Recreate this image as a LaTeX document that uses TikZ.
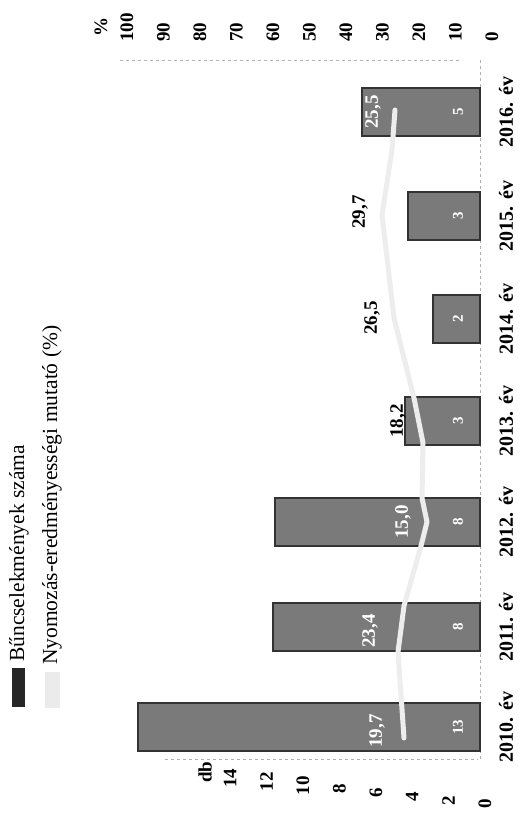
\documentclass[tikz,border=0pt]{standalone}
\usepackage{fontspec}
\setmainfont{Liberation Serif}
\usetikzlibrary{positioning}
\tikzset{
  bar/.style={draw=black!80,fill=black!52,line width=1.5pt},
  grid/.style={draw=black!30,dashed,line width=0.6pt},
  trend/.style={draw=black!7,line width=5pt,line cap=round,line join=round},
  yr/.style={rotate=90,font=\bfseries\fontsize{20}{24}\selectfont,inner sep=0pt},
  num/.style={rotate=90,font=\bfseries\fontsize{19}{22}\selectfont,inner sep=0pt},
  inbar/.style={num,text=white},
  leg/.style={rotate=90,font=\fontsize{21.5}{26}\selectfont,anchor=west,inner sep=0pt}
}
\begin{document}
\begin{tikzpicture}[x=1pt,y=-1pt]
\useasboundingbox (0,0) rectangle (523,819);
% grid lines and category axis
\draw[grid] (120,60) -- (462,60);
\draw[grid] (165,759) -- (478,759);
\draw[grid] (480,60) -- (480,759);
% bars
\foreach \yr/\yc/\top/\n in {2010/727/138/13,2011/627/273/8,2012/522/275/8,
    2013/421/405/3,2014/319/433/2,2015/216/408/3,2016/112/362/5}{
  \draw[bar] (\top,\yc-24) rectangle (480,\yc+24);
  \node[inbar,font=\bfseries\fontsize{15}{18}\selectfont] (c\yr) at (458,\yc) {\n};
  \node[yr] (y\yr) at (506,\yc) {\yr. év};
}
% trend line
\coordinate (t0) at (404,738);
\coordinate (t1a) at (398,652);
\coordinate (t1b) at (404,606);
\coordinate (t2a) at (421,546);
\coordinate (t2) at (427,522);
\coordinate (t2b) at (422,498);
\coordinate (t3a) at (423,443);
\coordinate (t3b) at (414,398);
\coordinate (t4) at (394,318);
\coordinate (t5) at (382,215);
\coordinate (t6a) at (392,150);
\coordinate (t6) at (395,110);
\draw[trend] (t0) -- (t1a) -- (t1b) -- (t2a) -- (t2) -- (t2b) -- (t3a)
  -- (t3b) -- (t4) -- (t5) -- (t6a) -- (t6);
% values
\node[inbar] (v2010) at (377,731) {19,7};
\node[inbar] (v2011) at (370,631) {23,4};
\node[inbar] (v2012) at (403,522) {15,0};
\node[num] (v2013) at (398,421) {18,2};
\node[num] (v2014) at (372,318) {26,5};
\node[num] (v2015) at (360,212) {29,7};
\node[inbar] (v2016) at (373,112) {25,5};
% axes
\foreach \v in {0,2,...,14}
  \node[num] (db\v) at ({485-18.2*\v},{804-1.85*\v}) {\v};
\node[num] (db) at (205,772) {db};
\foreach \p in {0,10,...,100}
  \node[num,anchor=west] (pc\p) at ({492-3.65*\p},42) {\p};
\node[num] (pc) at (101,27) {\%};
% legend
\fill[black!85] (12,668) rectangle (25,707);
\fill[black!8] (45,672) rectangle (60,708);
\node[leg] (l1) at (19,662) {Bűncselekmények száma};
\node[leg] (l2) at (52,665) {Nyomozás-eredményességi mutató (\%)};
\end{tikzpicture}
\end{document}
